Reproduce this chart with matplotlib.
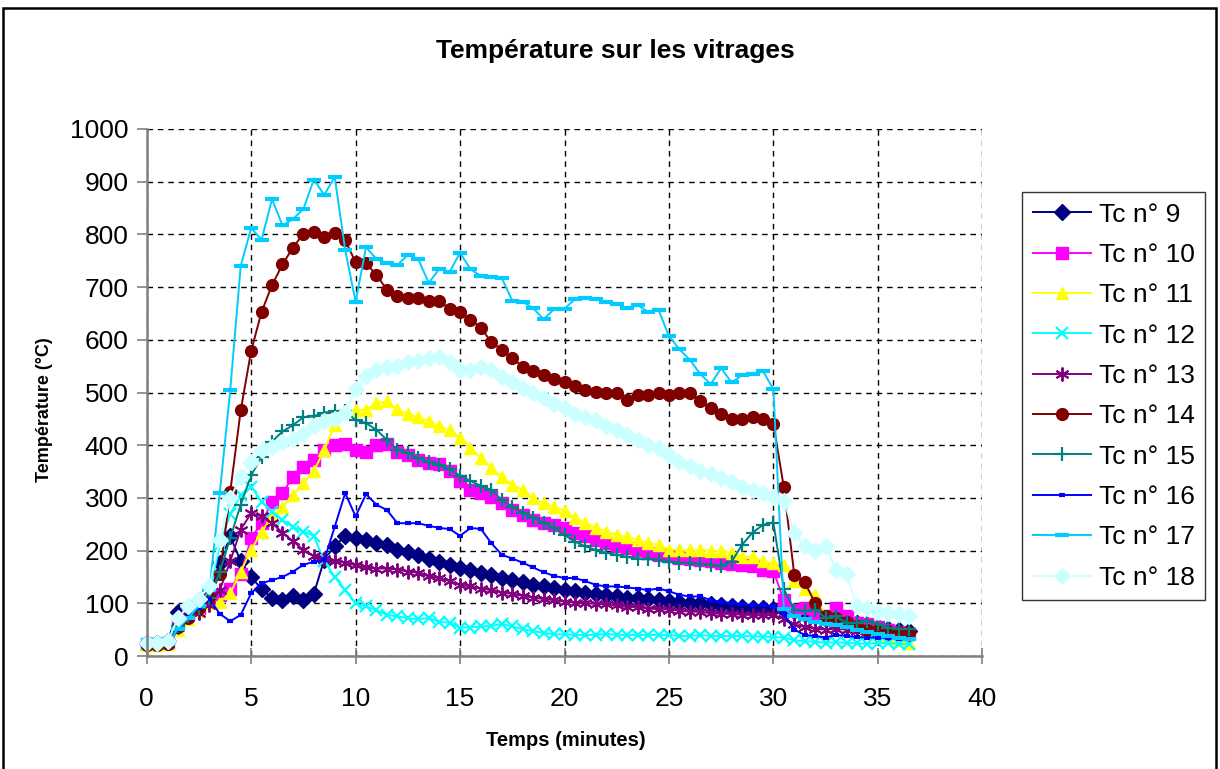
import matplotlib
matplotlib.use("Agg")
import matplotlib.pyplot as plt
from matplotlib.patches import Rectangle
from matplotlib import font_manager

time_min = [0, 0.5, 1, 1.5, 2, 2.5, 3, 3.5, 4, 4.5, 5, 5.5, 6, 6.5, 7, 7.5, 8, 8.5, 9, 9.5,
            10, 10.5, 11, 11.5, 12, 12.5, 13, 13.5, 14, 14.5, 15, 15.5, 16, 16.5, 17, 17.5,
            18, 18.5, 19, 19.5, 20, 20.5, 21, 21.5, 22, 22.5, 23, 23.5, 24, 24.5, 25, 25.5,
            26, 26.5, 27, 27.5, 28, 28.5, 29, 29.5, 30, 30.5, 31, 31.5, 32, 32.5, 33, 33.5,
            34, 34.5, 35, 35.5, 36, 36.5]

tc9 = [25, 25, 28, 84, 92, 104, 112, 177, 227, 180, 150, 127, 110, 106, 114, 107, 118, 183, 208, 228,
       224, 220, 215, 211, 202, 198, 192, 185, 179, 173, 167, 163, 158, 153, 148, 145,
       140, 135, 132, 129, 126, 123, 120, 118, 116, 114, 111, 110, 108, 106, 104, 103,
       101, 100, 98, 96, 95, 93, 92, 92, 90, 88, 85, 80, 75, 70, 68, 65,
       62, 58, 55, 52, 50, 48]
tc10 = [22, 22, 25, 60, 78, 92, 108, 116, 128, 155, 224, 252, 293, 309, 340, 359, 372, 391, 400, 403,
        390, 388, 400, 402, 388, 381, 372, 366, 364, 351, 332, 315, 309, 302, 290, 277,
        268, 258, 252, 249, 243, 233, 227, 220, 214, 208, 205, 201, 196, 192, 189, 186,
        184, 182, 181, 177, 175, 173, 170, 164, 161, 106, 88, 92, 82, 75, 91, 75,
        63, 60, 55, 50, 46, 42]
tc11 = [20, 20, 22, 50, 70, 85, 100, 103, 119, 160, 202, 235, 265, 283, 305, 328, 351, 391, 438, 465,
        467, 467, 480, 483, 468, 459, 453, 445, 436, 429, 414, 394, 375, 357, 340, 324,
        315, 299, 290, 283, 276, 262, 252, 243, 236, 230, 226, 220, 215, 211, 202, 201,
        201, 201, 200, 199, 196, 188, 188, 180, 176, 173, 142, 127, 115, 75, 68, 62,
        55, 48, 42, 36, 30, 25]
tc12 = [22, 22, 25, 58, 80, 95, 120, 210, 270, 305, 321, 293, 274, 258, 245, 236, 228, 180, 150, 125,
        100, 94, 87, 78, 75, 72, 70, 72, 65, 63, 54, 54, 56, 57, 61, 56,
        51, 47, 44, 41, 41, 40, 40, 40, 42, 40, 40, 40, 40, 40, 40, 38,
        38, 40, 38, 38, 38, 38, 37, 37, 36, 35, 30, 28, 27, 25, 26, 25,
        24, 23, 25, 24, 23, 22]
tc13 = [22, 22, 25, 55, 75, 82, 97, 125, 180, 240, 271, 265, 252, 234, 218, 201, 190, 184, 180, 177,
        172, 168, 166, 166, 164, 160, 158, 151, 148, 142, 135, 132, 128, 125, 120, 118,
        114, 111, 108, 106, 103, 101, 100, 99, 98, 96, 93, 93, 90, 89, 88, 86,
        84, 84, 81, 80, 80, 78, 78, 77, 78, 70, 60, 55, 52, 50, 52, 50,
        48, 47, 45, 44, 43, 42]
tc14 = [20, 20, 22, 55, 72, 92, 112, 155, 312, 466, 579, 653, 704, 743, 775, 801, 805, 796, 802, 789,
        747, 745, 723, 695, 684, 680, 679, 674, 674, 659, 653, 638, 623, 595, 581, 565,
        549, 540, 534, 525, 519, 512, 505, 501, 499, 499, 486, 495, 495, 499, 495, 499,
        499, 483, 471, 459, 449, 449, 453, 449, 440, 320, 154, 140, 100, 75, 72, 65,
        56, 50, 50, 48, 46, 45]
tc15 = [20, 20, 24, 56, 76, 92, 110, 160, 224, 287, 343, 378, 407, 426, 438, 453, 455, 462, 464, 464,
        448, 442, 429, 410, 391, 385, 375, 369, 362, 355, 342, 332, 323, 315, 296, 283,
        271, 262, 253, 243, 230, 217, 208, 201, 196, 192, 188, 185, 184, 182, 179, 177,
        176, 175, 173, 171, 179, 211, 234, 249, 253, 127, 88, 85, 88, 72, 75, 63,
        63, 66, 60, 54, 52, 51]
tc16 = [20, 20, 22, 50, 75, 91, 108, 80, 66, 78, 119, 138, 144, 150, 160, 173, 179, 182, 245, 309,
        265, 307, 287, 277, 252, 252, 252, 247, 243, 241, 228, 243, 241, 214, 192, 185,
        177, 168, 159, 152, 148, 148, 142, 135, 132, 132, 130, 128, 125, 128, 123, 116,
        113, 113, 106, 103, 100, 98, 97, 96, 95, 80, 50, 40, 38, 35, 40, 38,
        36, 35, 35, 34, 33, 33]
tc17 = [20, 20, 22, 52, 72, 95, 125, 310, 505, 740, 812, 790, 867, 817, 829, 848, 904, 875, 909, 771,
        672, 776, 753, 745, 742, 761, 753, 708, 734, 729, 765, 734, 721, 720, 717, 674,
        672, 660, 639, 658, 659, 677, 680, 678, 672, 668, 660, 666, 653, 657, 607, 582,
        562, 535, 516, 546, 519, 533, 535, 541, 506, 90, 75, 70, 65, 60, 58, 55,
        50, 46, 42, 38, 35, 32]
tc18 = [24, 24, 28, 72, 95, 108, 133, 220, 299, 340, 369, 391, 397, 407, 411, 422, 436, 445, 449, 462,
        506, 531, 542, 549, 551, 557, 560, 565, 568, 557, 543, 543, 548, 543, 529, 519,
        508, 499, 489, 479, 470, 460, 454, 448, 436, 429, 419, 410, 400, 394, 381, 369,
        360, 351, 345, 337, 331, 321, 315, 309, 302, 295, 233, 208, 199, 208, 164, 155,
        94, 91, 84, 82, 79, 75]

series = [tc9, tc10, tc11, tc12, tc13, tc14, tc15, tc16, tc17, tc18]
labels = ["Tc n° 9", "Tc n° 10", "Tc n° 11", "Tc n° 12", "Tc n° 13",
          "Tc n° 14", "Tc n° 15", "Tc n° 16", "Tc n° 17", "Tc n° 18"]
x_ticks = [0, 5, 10, 15, 20, 25, 30, 35, 40]
y_ticks = [0, 100, 200, 300, 400, 500, 600, 700, 800, 900, 1000]

styles = [
    dict(color="#000080", marker="D", ms=8, mew=1),
    dict(color="#FF00FF", marker="s", ms=8, mew=1),
    dict(color="#FFFF00", marker="^", ms=9, mew=1),
    dict(color="#00FFFF", marker="x", ms=8, mew=1.6),
    dict(color="#800080", marker=(6, 2, 0), ms=10, mew=1.4),
    dict(color="#800000", marker="o", ms=8.5, mew=1),
    dict(color="#008080", marker="+", ms=10, mew=1.6),
    dict(color="#0000FF", marker="_", ms=5, mew=3),
    dict(color="#00CCFF", marker="_", ms=9.5, mew=3),
    dict(color="#CCFFFF", marker="D", ms=8, mew=1),
]

avail = {f.name for f in font_manager.fontManager.ttflist}
base = "Liberation Sans" if "Liberation Sans" in avail else "DejaVu Sans"
narrow = "Liberation Sans Narrow" if "Liberation Sans Narrow" in avail else base
plt.rcParams["font.family"] = [base, "DejaVu Sans"]

fig = plt.figure(figsize=(12.2, 7.69), dpi=100)
fig.patch.set_facecolor("white")
ax = fig.add_axes([146.7 / 1220, 1 - 656 / 769, (982.3 - 146.7) / 1220, (656 - 129) / 769])

for vals, lab, st in zip(series, labels, styles):
    ax.plot(time_min, vals, color=st["color"], lw=1.4, marker=st["marker"],
            markersize=st["ms"], markeredgewidth=st["mew"],
            markerfacecolor=st["color"], markeredgecolor=st["color"],
            label=lab, clip_on=False)

ax.set_xlim(0, 40)
ax.set_ylim(0, 1000)
ax.set_xticks(x_ticks)
ax.set_yticks(y_ticks)
ax.tick_params(axis="both", labelsize=19, colors="black")
ax.tick_params(axis="x", direction="inout", length=12, width=1.2, color="#808080", pad=16)
ax.tick_params(axis="y", direction="out", length=7, width=1.2, color="#808080", pad=6)
for s in ["top", "right"]:
    ax.spines[s].set_visible(False)
for s in ["left", "bottom"]:
    ax.spines[s].set_color("#808080")
    ax.spines[s].set_linewidth(1.8)
ax.grid(True, color="black", linestyle=(0, (4, 3.5)), linewidth=1.0)
ax.set_axisbelow(True)

ax.set_xlabel("Temps (minutes)", fontsize=14.5, fontweight="bold", family=[narrow, base])
ax.xaxis.set_label_coords((565.5 - 146.7) / 835.6, -(731 - 656) / 527)
ax.set_ylabel("Température (°C)", fontsize=13, fontweight="bold", family=[narrow, base])
ax.yaxis.set_label_coords((53 - 146.7) / 835.6, (656 - 410) / 527)

fig.text(615 / 1220, 1 - 51 / 769, "Température sur les vitrages", fontsize=19,
         fontweight="bold", family=[narrow, base], ha="center", va="center")

leg = fig.legend(loc="upper left", bbox_to_anchor=(1022 / 1220, 1 - 192 / 769),
                 fontsize=19, frameon=True, fancybox=False, shadow=False,
                 handlelength=2.2, handletextpad=0.3, labelspacing=0.62,
                 borderpad=0.4, borderaxespad=0, markerscale=1.0)
leg.get_frame().set_edgecolor("black")
leg.get_frame().set_linewidth(1.0)

fig.patches.append(Rectangle((3 / 1220, -0.02), (1216 - 3) / 1220, 1 - 8 / 769 + 0.02,
                             transform=fig.transFigure, fill=False, edgecolor="black",
                             linewidth=1.8))

fig.savefig("out.png", dpi=100)
